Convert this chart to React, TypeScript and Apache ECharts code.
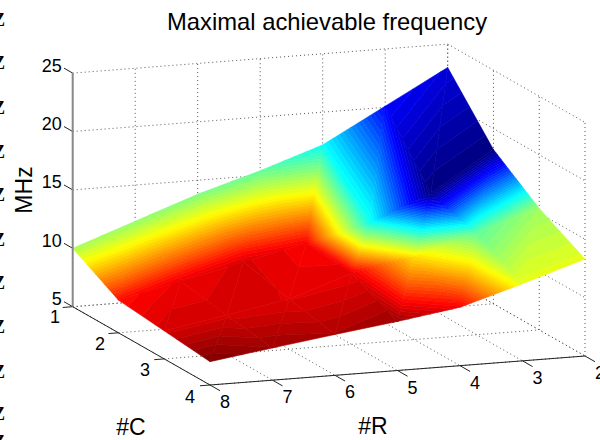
import React, { useEffect, useRef } from "react";
import * as echarts from "echarts";

const titleText = "Maximal achievable frequency";
const rValues = [8, 7, 6, 5, 4, 3, 2];
const cValues = [1, 2, 3, 4];
const zTicks = [5, 10, 15, 20, 25];

// Surface height (MHz), one list per #C, ordered as rValues
const heightC1 = [10, 11.9, 13.8, 15.4, 17.2, 20.1, 23];
const heightC2 = [7.8, 9, 10.25, 11.4, 12.7, 14.9, 18.2];
const heightC3 = [7.4, 8.34, 9.3, 11.1, 12, 13.7, 15.4];
const heightC4 = [7, 7.76, 8.5, 9.2, 10, 11.6, 13.3];
// Colour data (position in the jet map), one list per #C
const colourC1 = [0.54, 0.52, 0.5, 0.47, 0.38, 0.125, 0.09];
const colourC2 = [0.865, 0.895, 0.91, 0.88, 0.4, 0, 0];
const colourC3 = [0.915, 0.915, 0.905, 0.895, 0.66, 0.47, 0.53];
const colourC4 = [1, 0.97, 0.955, 0.97, 0.88, 0.6, 0.6];
const heights = [heightC1, heightC2, heightC3, heightC4];
const colours = [colourC1, colourC2, colourC3, colourC4];

const stray = [20, 63, 108, 152, 195, 240, 283, 327, 372, 414, 442];

const project = (r: number, c: number, z: number): [number, number] => [
  72.7 + ((8 - r) / 6) * 375 + ((c - 1) / 3) * 137.3,
  306.7 - ((8 - r) / 6) * 29 + ((c - 1) / 3) * 78.3 - (z - 5) * 11.68,
];

const jet = (t: number) => {
  const f = (v: number) => Math.round(255 * Math.max(0, Math.min(1, v)));
  return `rgb(${f(1.5 - Math.abs(4 * t - 3))},${f(1.5 - Math.abs(4 * t - 2))},${f(1.5 - Math.abs(4 * t - 1))})`;
};

type V = { p: [number, number]; c: number };
const clipAbove = (poly: V[], lim: number, sign: number): V[] => {
  const out: V[] = [];
  for (let i = 0; i < poly.length; i++) {
    const a = poly[i];
    const b = poly[(i + 1) % poly.length];
    const da = sign * (a.c - lim);
    const db = sign * (b.c - lim);
    if (da >= 0) out.push(a);
    if ((da > 0 && db < 0) || (da < 0 && db > 0)) {
      const t = da / (da - db);
      out.push({
        p: [a.p[0] + t * (b.p[0] - a.p[0]), a.p[1] + t * (b.p[1] - a.p[1])],
        c: lim,
      });
    }
  }
  return out;
};

const LEVELS = 64;
const FONT = '"Liberation Sans", Arial, sans-serif';

const dotted: number[][] = [];
const solid: number[][] = [];
const seg = (list: number[][], a: [number, number], b: [number, number]) => list.push([a[0], a[1], b[0], b[1]]);
const [rFront, rBack] = [rValues[0], rValues[rValues.length - 1]];
const [cFirst, cLast] = [cValues[0], cValues[cValues.length - 1]];
const [zLow, zHigh] = [zTicks[0], zTicks[zTicks.length - 1]];
rValues.forEach((r) => {
  seg(dotted, project(r, cFirst, zLow), project(r, cLast, zLow));
  seg(dotted, project(r, cFirst, zLow), project(r, cFirst, zHigh));
  seg(solid, project(r, cLast, zLow), project(r, cLast + 0.22, zLow));
});
cValues.forEach((c) => {
  seg(dotted, project(rFront, c, zLow), project(rBack, c, zLow));
  seg(dotted, project(rBack, c, zLow), project(rBack, c, zHigh));
  seg(solid, project(rFront, c, zLow), project(rFront + 0.16, c, zLow));
});
zTicks.forEach((z) => {
  seg(dotted, project(rFront, cFirst, z), project(rBack, cFirst, z));
  seg(dotted, project(rBack, cFirst, z), project(rBack, cLast, z));
  seg(solid, project(rFront, cFirst, z), project(rFront, cFirst - 0.19, z));
});
seg(solid, project(rFront, cFirst, zLow), project(rFront, cLast, zLow));
seg(solid, project(rFront, cLast, zLow), project(rBack, cLast, zLow));
const leftEdge = [[...project(rFront, cFirst, zLow), ...project(rFront, cFirst, zHigh)]];

const triangles: number[][] = [];
for (let i = 0; i < rValues.length - 1; i++) {
  for (let j = 0; j < cValues.length - 1; j++) {
    triangles.push([i, j, 0], [i, j, 1]);
  }
}

const vertex = (i: number, j: number): V => ({
  p: project(rValues[i], cValues[j], heights[j][i]),
  c: colours[j][i],
});

const lineSeries = (data: number[][], style: any) => ({
  type: "custom",
  coordinateSystem: "cartesian2d",
  clip: false,
  silent: true,
  data,
  encode: { x: [0, 2], y: [1, 3] },
  renderItem: (_: any, api: any) => {
    const a = api.coord([api.value(0), api.value(1)]);
    const b = api.coord([api.value(2), api.value(3)]);
    return { type: "line", shape: { x1: a[0], y1: a[1], x2: b[0], y2: b[1] }, style };
  },
});

const text = (t: string, x: number, y: number, fontSize: number, extra: any = {}) => ({
  type: "text",
  x,
  y,
  silent: true,
  ...extra,
  style: {
    text: t,
    x: 0,
    y: 0,
    fill: extra.fill || "#000",
    font: `${fontSize}px ${FONT}`,
    textAlign: extra.align || "center",
    textVerticalAlign: "middle",
  },
});

const labels: any[] = [
  ...zTicks.map((z) => {
    const [x, y] = project(rFront, cFirst, z);
    return text(String(z), x - 11, y - 7.5, 18, { align: "right" });
  }),
  ...cValues.map((c, k) => {
    const [x, y] = project(rFront, c, zLow);
    return text(String(c), x - 17.7 - k * 0.8, y + 10.5 + k * 0.5, 18);
  }),
  ...rValues.map((r) => {
    const [x, y] = project(r, cLast, zLow);
    return text(String(r), x + 15, y + 17, 18);
  }),
  text("#C", 131, 426.5, 23),
  text("#R", 373, 426, 23),
  text("MHz", 24, 190, 23, { rotation: Math.PI / 2 }),
  ...stray.map((y) => ({
    type: "text",
    x: -7,
    y,
    silent: true,
    style: {
      text: "Z",
      x: 0,
      y: 0,
      fill: "#000",
      font: 'bold 18px "Liberation Serif", serif',
      textAlign: "left",
      textVerticalAlign: "middle",
    },
  })),
];

export default function App() {
  const ref = useRef<HTMLDivElement>(null);
  useEffect(() => {
    document.body.style.margin = "0";
    const chart = echarts.init(ref.current!, undefined, { renderer: "svg" });
    chart.setOption({
      animation: false,
      backgroundColor: "#fff",
      title: {
        text: titleText,
        left: 322,
        top: 4,
        textAlign: "center",
        textStyle: { fontFamily: "Liberation Sans", fontSize: 23.8, fontWeight: "normal", color: "#000" },
      },
      grid: { left: 0, right: 0, top: 0, bottom: 0 },
      xAxis: { type: "value", min: 0, max: 600, show: false },
      yAxis: { type: "value", min: 0, max: 440, inverse: true, show: false },
      graphic: labels,
      series: [
        lineSeries(dotted, { stroke: "#555", lineWidth: 1, lineDash: [1, 3], fill: "none" }),
        {
          type: "custom",
          coordinateSystem: "cartesian2d",
          clip: false,
          silent: true,
          data: triangles,
          renderItem: (_: any, api: any) => {
            const i = api.value(0);
            const j = api.value(1);
            const which = api.value(2);
            const corners =
              which === 0
                ? [vertex(i, j), vertex(i + 1, j), vertex(i, j + 1)]
                : [vertex(i + 1, j), vertex(i + 1, j + 1), vertex(i, j + 1)];
            const children: any[] = [];
            for (let k = 0; k < LEVELS; k++) {
              let poly = clipAbove(corners, k / LEVELS, 1);
              if (poly.length >= 3) poly = clipAbove(poly, (k + 1) / LEVELS, -1);
              if (poly.length < 3) continue;
              const color = jet((k + 0.5) / LEVELS);
              children.push({
                type: "polygon",
                shape: { points: poly.map((v) => api.coord(v.p)) },
                style: { fill: color, stroke: color, lineWidth: 0.6 },
              });
            }
            return { type: "group", children };
          },
        },
        lineSeries(solid, { stroke: "#222", lineWidth: 1, fill: "none" }),
        lineSeries(leftEdge, { stroke: "#888", lineWidth: 2, fill: "none" }),
      ],
    });
    return () => chart.dispose();
  }, []);
  return <div ref={ref} style={{ position: "absolute", left: 0, top: 0, width: 600, height: 440 }} />;
}
